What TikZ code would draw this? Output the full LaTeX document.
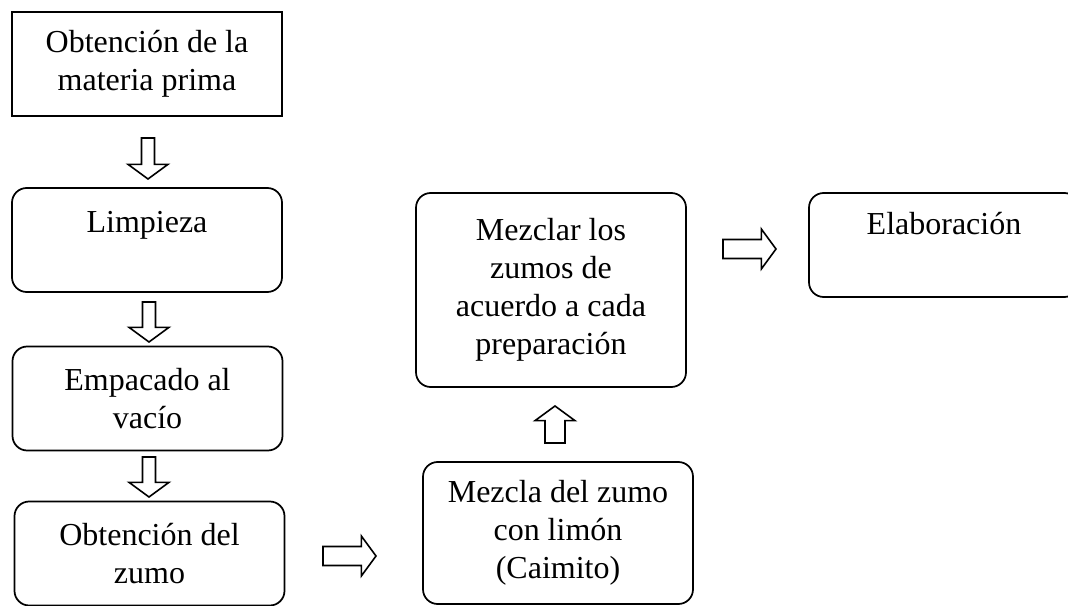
\documentclass[tikz,border=0pt]{standalone}
\usepackage{fontspec}
\setmainfont{Liberation Serif}
\usetikzlibrary{calc}
\tikzset{
  caja/.style={draw, line width=1.3pt, rectangle, minimum width=202.5pt, minimum height=78pt, align=center, inner sep=2pt, font=\fontsize{24}{28.5}\selectfont},
  cajar/.style={caja, rounded corners=11pt},
  flecha/.style={draw, line width=1.2pt, fill=white, line join=miter},
}
\newcommand{\flecha}[3]{%
  \draw[flecha] let \p1=(#1), \p2=(#2),
    \n1={atan2(\y2-\y1,\x2-\x1)}, \n2={veclen(\x2-\x1,\y2-\y1)} in
    [shift={(\p1)}, rotate=\n1]
    (0pt,-#3) -- (\n2-11pt,-#3) -- (\n2-11pt,-15pt) -- (\n2,0pt)
    -- (\n2-11pt,15pt) -- (\n2-11pt,#3) -- (0pt,#3) -- cycle;}

\begin{document}
\begin{tikzpicture}[x=0.75pt,y=-0.75pt]
  \clip (0,0) rectangle (1068,606);
  \node[caja] (obt) at (147,64) {Obtención de la\\materia prima};
  \node[cajar, text height=16pt, text depth=26.5pt] (limp) at (147,240) {Limpieza};
  \node[cajar] (emp) at (147.5,398.5) {Empacado al\\vacío};
  \node[cajar] (zumo) at (149.5,553.5) {Obtención del\\zumo};
  \node[cajar, minimum height=106.5pt] (mezcla) at (558,533) {Mezcla del zumo\\con limón\\(Caimito)};
  \node[cajar, minimum height=145.5pt] (mezclar) at (551,290) {Mezclar los\\zumos de\\acuerdo a cada\\preparación};
  \node[cajar, text height=16pt, text depth=31pt] (elab) at (944,245) {Elaboración};

  \coordinate (f1a) at (148,138);
  \coordinate (f1b) at (148,179);
  \coordinate (f2a) at (149,302);
  \coordinate (f2b) at (149,342);
  \coordinate (f3a) at (149,457);
  \coordinate (f3b) at (149,497);
  \coordinate (f4a) at (323,556);
  \coordinate (f4b) at (376,556);
  \coordinate (f5a) at (555,443);
  \coordinate (f5b) at (555,406);
  \coordinate (f6a) at (723,249);
  \coordinate (f6b) at (776,249);

  \flecha{f1a}{f1b}{4.9pt}
  \flecha{f2a}{f2b}{4.9pt}
  \flecha{f3a}{f3b}{4.9pt}
  \flecha{f4a}{f4b}{7.1pt}
  \flecha{f5a}{f5b}{7.5pt}
  \flecha{f6a}{f6b}{7.1pt}
\end{tikzpicture}
\end{document}
